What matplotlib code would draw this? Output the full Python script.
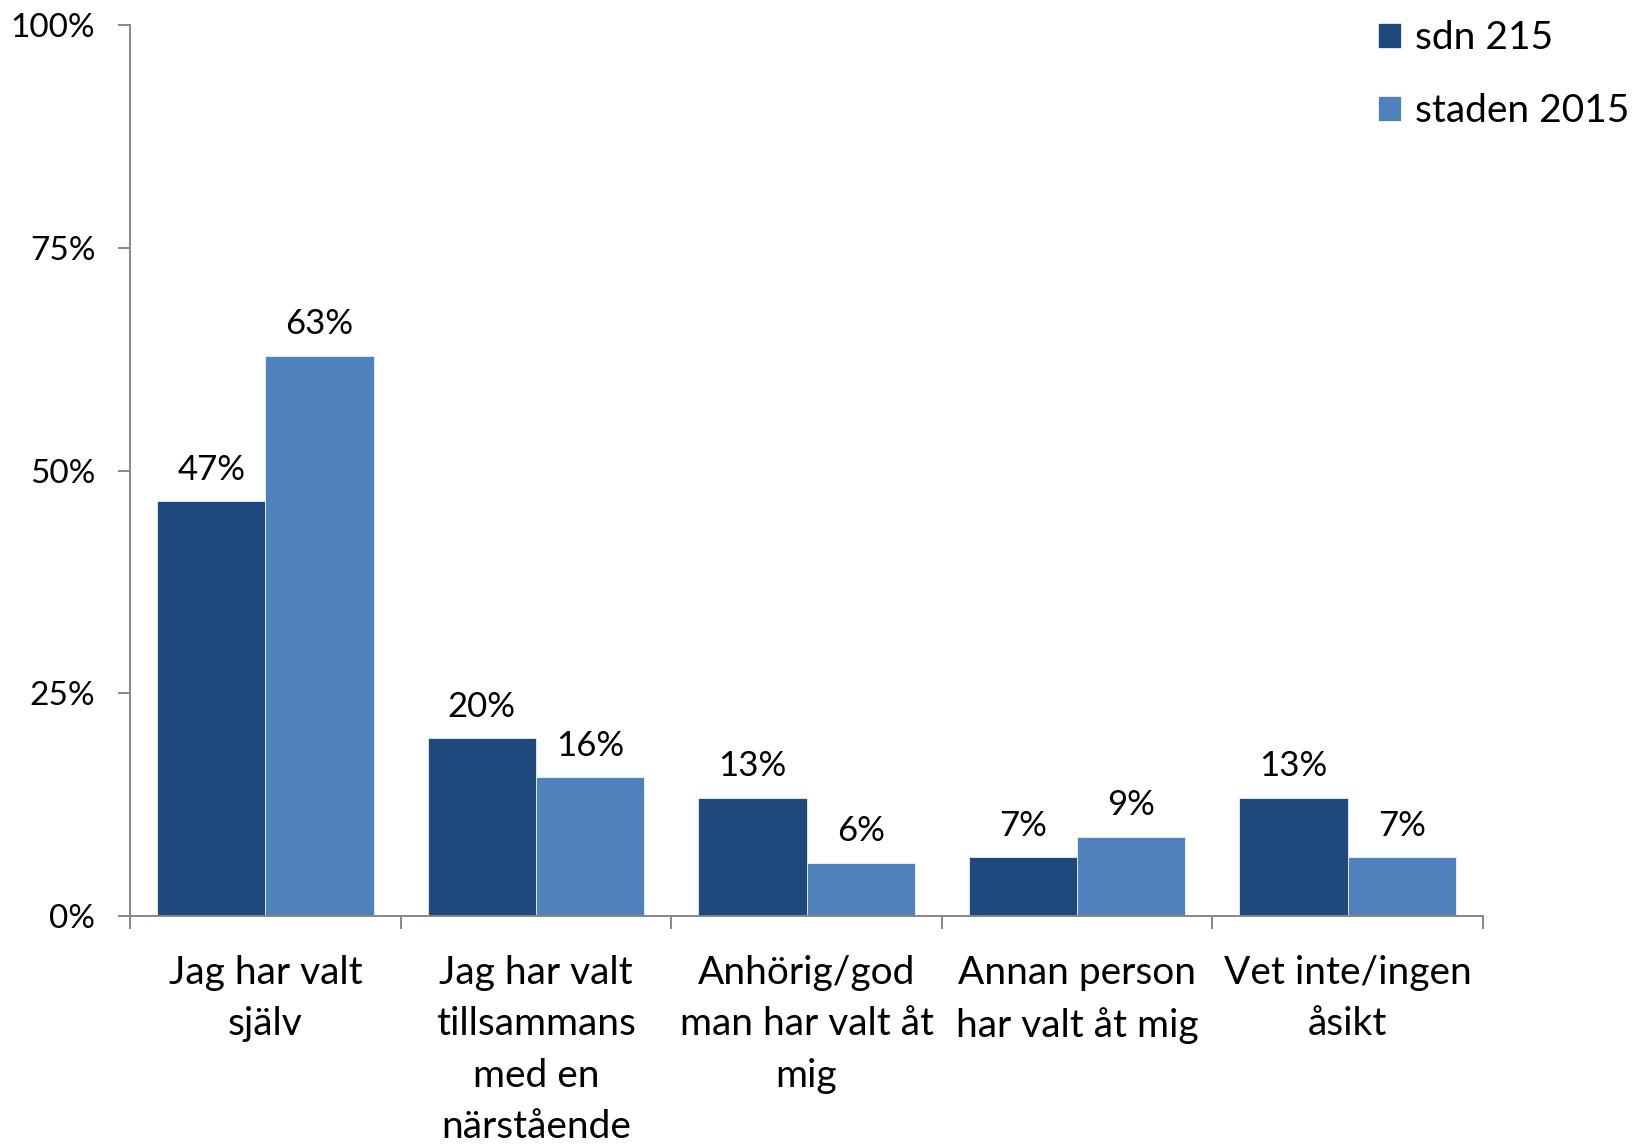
import numpy as np
import matplotlib
matplotlib.use("Agg")
import matplotlib.pyplot as plt

# Data (percent)
categories = ["Jag har valt\nsjälv",
              "Jag har valt\ntillsammans\nmed en\nnärstående",
              "Anhörig/god\nman har valt åt\nmig",
              "Annan person\nhar valt åt mig",
              "Vet inte/ingen\nåsikt"]
sdn_215 = [46.6, 20.0, 13.3, 6.6, 13.3]
staden_2015 = [62.9, 15.6, 6.0, 8.9, 6.6]
series_names = ["sdn 215", "staden 2015"]
yticks = [0, 25, 50, 75, 100]

dark_blue = "#1F497D"
light_blue = "#4F81BD"
axis_gray = "#868686"

plt.rcParams["font.family"] = ["Lato", "DejaVu Sans"]

fig = plt.figure(figsize=(16.32, 11.45), dpi=100)
ax = fig.add_axes([0.0797, 0.200, 0.829, 0.778])

x = np.arange(len(categories))
w = 0.4
b1 = ax.bar(x - w / 2, sdn_215, w, color=dark_blue, edgecolor="white", linewidth=0.5,
            label=series_names[0])
b2 = ax.bar(x + w / 2, staden_2015, w, color=light_blue, edgecolor="white", linewidth=0.5,
            label=series_names[1])

for bars, vals in [(b1, sdn_215), (b2, staden_2015)]:
    for bar, v in zip(bars, vals):
        ax.annotate(f"{round(v):.0f}%", (bar.get_x() + bar.get_width() / 2, v),
                    xytext=(0, 11), textcoords="offset points",
                    ha="center", va="bottom", fontsize=25)

ax.set_xlim(-0.5, len(categories) - 0.5)
ax.set_ylim(0, 100)
ax.set_yticks(yticks)
ax.set_yticklabels([f"{t}%" for t in yticks])

ax.set_xticks(x)
ax.set_xticklabels(categories, fontsize=28, linespacing=1.53, va="top")
ax.set_xticks(np.arange(-0.5, len(categories)), minor=True)
ax.tick_params(axis="x", which="major", length=0, pad=28)
ax.tick_params(axis="x", which="minor", length=9, width=1.4, color=axis_gray, direction="out")
ax.tick_params(axis="y", length=9, width=1.4, color=axis_gray, pad=16, labelsize=24)

for s in ["top", "right"]:
    ax.spines[s].set_visible(False)
for s in ["left", "bottom"]:
    ax.spines[s].set_color(axis_gray)
    ax.spines[s].set_linewidth(1.4)

fig.legend(handles=[b1, b2], labels=series_names, loc="upper left",
           bbox_to_anchor=(0.823, 1.013), frameon=False, fontsize=28,
           handlelength=0.6, handleheight=0.6, handletextpad=0.35, labelspacing=0.95)

fig.savefig("out.png", dpi=100)
